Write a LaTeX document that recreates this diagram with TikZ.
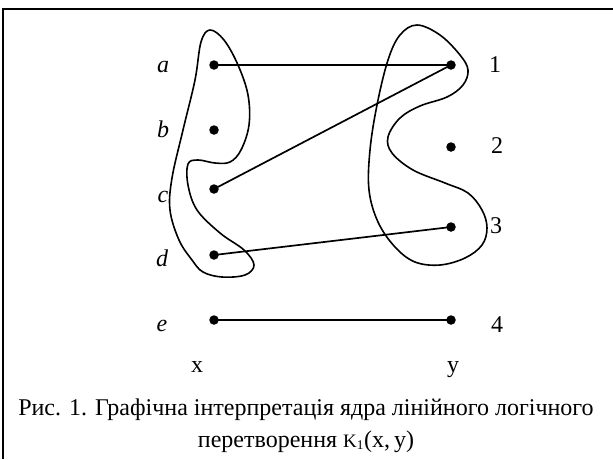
\documentclass[tikz,border=0pt]{standalone}
\usepackage{fontspec}
\setmainfont{Liberation Serif}
\begin{document}
\begin{tikzpicture}[x=1pt,y=-1pt,
  dot/.style={circle,fill=black,inner sep=0pt,minimum size=9.5pt},
  lbl/.style={anchor=base,inner sep=0pt,font=\fontsize{24}{27}\selectfont},
  edge/.style={line width=1.7pt},
  blob/.style={line width=1.6pt},
  frame/.style={line width=2.2pt}]
\useasboundingbox (0,0) rectangle (613,459);
% frame (right and bottom sides fall outside the picture)
\coordinate (f1) at (3,459);
\coordinate (f2) at (3,9);
\coordinate (f3) at (613,9);
\draw[frame] (f1) -- (f2) -- (f3);
% left points
\node[dot] (a) at (214,65) {};
\node[dot] (b) at (214,130) {};
\node[dot] (c) at (214,189) {};
\node[dot] (d) at (214,255) {};
\node[dot] (e) at (214,320) {};
% right points
\node[dot] (p1) at (451,65) {};
\node[dot] (p2) at (451,147) {};
\node[dot] (p3) at (451,227) {};
\node[dot] (p4) at (451,320) {};
% labels
\node[lbl] (la) at (163,72) {\itshape a};
\node[lbl] (lb) at (163,137) {\itshape b};
\node[lbl] (lc) at (163,202) {\itshape c};
\node[lbl] (ld) at (162,266) {\itshape d};
\node[lbl] (le) at (162,331) {\itshape e};
\node[lbl] (l1) at (495,72) {1};
\node[lbl] (l2) at (497,153) {2};
\node[lbl] (l3) at (496,233) {3};
\node[lbl] (l4) at (497,332) {4};
\node[lbl] (lx) at (197,372) {x};
\node[lbl] (ly) at (453,372) {y};
% connectors
\draw[edge] (a.center) -- (p1.center);
\draw[edge] (c.center) -- (p1.center);
\draw[edge] (d.center) -- (p3.center);
\draw[edge] (e.center) -- (p4.center);
% left blob
\draw[blob] plot[smooth cycle, tension=0.6] coordinates {
 (210,30) (224,40) (238,65) (248,95) (249,125) (241,150) (230,162)
 (215,163) (198,160) (188,164) (188,185) (197,210) (220,233) (244,250)
 (254,265) (245,275) (222,277) (203,272) (192,260) (179,240) (170,210)
 (172,178) (183,130) (195,80) (201,42)};
% right blob
\draw[blob] plot[smooth cycle, tension=0.6] coordinates {
 (417,25) (440,35) (460,55) (468,70) (463,85) (447,97) (420,106)
 (400,118) (388,137) (392,153) (413,170) (445,183) (468,193) (482,210)
 (487,228) (482,245) (465,258) (440,265) (415,262) (395,247) (378,222)
 (369,190) (370,150) (377,105) (388,60) (400,35)};
% caption
\node[lbl] (cap1) at (306,415) {Рис. 1. Графічна інтерпретація ядра лінійного логічного};
\node[lbl] (cap2) at (306,447) {перетворення {\fontsize{19}{21}\selectfont K\textsubscript{1}}(x,\,y)};
\end{tikzpicture}
\end{document}
